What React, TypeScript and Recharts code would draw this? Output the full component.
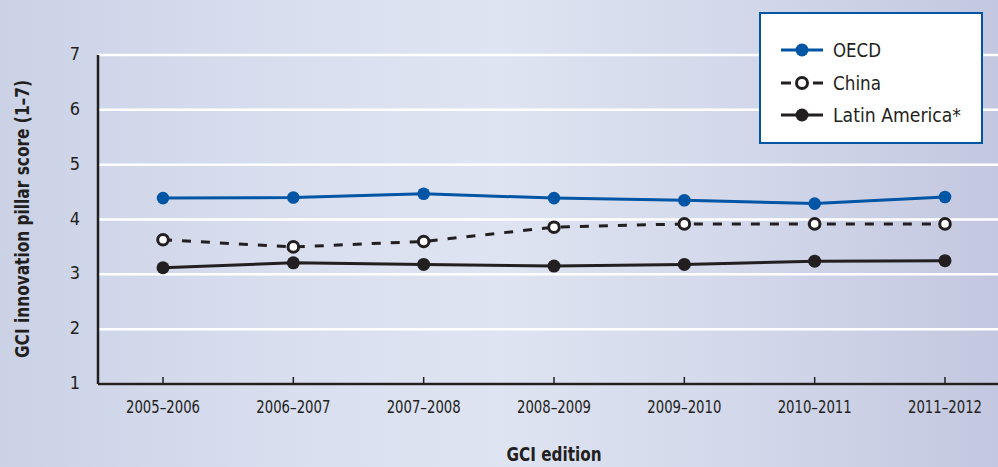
import React from 'react';
import { LineChart, Line, XAxis, YAxis, CartesianGrid, Legend } from 'recharts';

const editions = ['2005–2006', '2006–2007', '2007–2008', '2008–2009', '2009–2010', '2010–2011', '2011–2012'];
const oecd = [4.39, 4.4, 4.47, 4.39, 4.35, 4.29, 4.41];
const china = [3.63, 3.5, 3.6, 3.86, 3.92, 3.92, 3.92];
const latinAmerica = [3.12, 3.21, 3.18, 3.15, 3.18, 3.24, 3.25];
const yTicks = [1, 2, 3, 4, 5, 6, 7];
const legendOrder = ['OECD', 'China', 'Latin America*'];

const data = editions.map((e, i) => ({ edition: e, oecd: oecd[i], china: china[i], latin: latinAmerica[i] }));

const FONT = '"Liberation Sans Narrow", "DejaVu Sans Condensed", "Liberation Sans", sans-serif';
const INK = '#231f20';
const BLUE = '#0055a4';

const legendWidths: Record<string, number> = { OECD: 48, China: 48, 'Latin America*': 128 };

const XTick = (props: any) => {
  const { x, y, payload } = props;
  return (
    <g>
      <line x1={x} x2={x} y1={y} y2={y - 7} stroke={INK} strokeWidth={1.5} />
      <text x={x} y={y + 29} textAnchor="middle" fontFamily={FONT} fontSize={18} fill={INK} textLength={74} lengthAdjust="spacingAndGlyphs">
        {payload.value}
      </text>
    </g>
  );
};

const YTick = (props: any) => {
  const { x, y, payload } = props;
  return (
    <text x={x - 18} y={y + 5} textAnchor="end" fontFamily={FONT} fontSize={18} fill={INK}>
      {payload.value}
    </text>
  );
};

const LegendBox = (props: any) => {
  const items = [...(props.payload || [])].sort(
    (a: any, b: any) => legendOrder.indexOf(a.value) - legendOrder.indexOf(b.value)
  );
  const rows = [38, 71, 103];
  return (
    <div style={{ width: 224, height: 132, boxSizing: 'border-box', border: `2px solid ${BLUE}`, background: '#ffffff' }}>
      <svg width={220} height={128} style={{ display: 'block' }}>
        {items.map((p: any, i: number) => {
          const y = rows[i] - 2;
          const dashed = p.dataKey === 'china';
          const color = p.color;
          return (
            <g key={p.value}>
              {dashed ? (
                <>
                  <line x1={20} x2={30} y1={y} y2={y} stroke={color} strokeWidth={3} />
                  <line x1={52} x2={62} y1={y} y2={y} stroke={color} strokeWidth={3} />
                  <circle cx={41} cy={y} r={5.5} fill="#fff" stroke={color} strokeWidth={3} />
                </>
              ) : (
                <>
                  <line x1={20} x2={62} y1={y} y2={y} stroke={color} strokeWidth={3} />
                  <circle cx={41} cy={y} r={6.5} fill={color} />
                </>
              )}
              <text x={72} y={y + 7} fontFamily={FONT} fontSize={20} fill={INK} textLength={legendWidths[p.value]} lengthAdjust="spacingAndGlyphs">
                {p.value}
              </text>
            </g>
          );
        })}
      </svg>
    </div>
  );
};

export default function App() {
  return (
    <div
      style={{
        position: 'fixed',
        left: 0,
        top: 0,
        width: 998,
        height: 467,
        overflow: 'hidden',
        background: 'linear-gradient(to right, #cbd2e6 0%, #d9dfef 30%, #dfe4f2 50%, #d2d7ea 75%, #c3c8e0 100%)',
      }}
    >
      <LineChart width={1010} height={467} data={data} margin={{ top: 55, right: 0, bottom: 0, left: 0 }}>
        <CartesianGrid vertical={false} stroke="#ffffff" strokeWidth={2.5} />
        <XAxis
          dataKey="edition"
          height={83}
          padding={{ left: 65, right: 65 }}
          tickSize={0}
          tickMargin={0}
          tickLine={false}
          axisLine={{ stroke: INK, strokeWidth: 2.5 }}
          tick={<XTick />}
          interval={0}
        />
        <YAxis
          width={98}
          domain={[1, 7]}
          ticks={yTicks}
          tickSize={0}
          tickMargin={0}
          tickLine={false}
          axisLine={{ stroke: INK, strokeWidth: 2.5 }}
          tick={<YTick />}
        />
        <Legend
          layout="vertical"
          align="center"
          verticalAlign="middle"
          wrapperStyle={{ position: 'absolute', left: 759, top: 12, width: 224, height: 132 }}
          content={<LegendBox />}
        />
        <Line
          name="OECD"
          dataKey="oecd"
          stroke={BLUE}
          strokeWidth={3}
          dot={{ r: 6.3, fill: BLUE, stroke: BLUE, strokeWidth: 0 }}
          activeDot={false}
          isAnimationActive={false}
        />
        <Line
          name="China"
          dataKey="china"
          stroke={INK}
          strokeWidth={3}
          strokeDasharray="9 10"
          dot={{ r: 5.3, fill: '#ffffff', stroke: INK, strokeWidth: 3, strokeDasharray: '' }}
          activeDot={false}
          isAnimationActive={false}
        />
        <Line
          name="Latin America*"
          dataKey="latin"
          stroke={INK}
          strokeWidth={3}
          dot={{ r: 6.5, fill: INK, stroke: INK, strokeWidth: 0 }}
          activeDot={false}
          isAnimationActive={false}
        />
      </LineChart>
      <svg width={998} height={467} style={{ position: 'absolute', left: 0, top: 0, pointerEvents: 'none' }}>
        <text
          x={29}
          y={219}
          transform="rotate(-90, 29, 219)"
          textAnchor="middle"
          fontFamily={FONT}
          fontWeight="bold"
          fontSize={20}
          fill={INK}
          textLength={278}
          lengthAdjust="spacingAndGlyphs"
        >
          GCI innovation pillar score (1–7)
        </text>
        <text
          x={554}
          y={461}
          textAnchor="middle"
          fontFamily={FONT}
          fontWeight="bold"
          fontSize={20}
          fill={INK}
          textLength={95}
          lengthAdjust="spacingAndGlyphs"
        >
          GCI edition
        </text>
      </svg>
    </div>
  );
}
